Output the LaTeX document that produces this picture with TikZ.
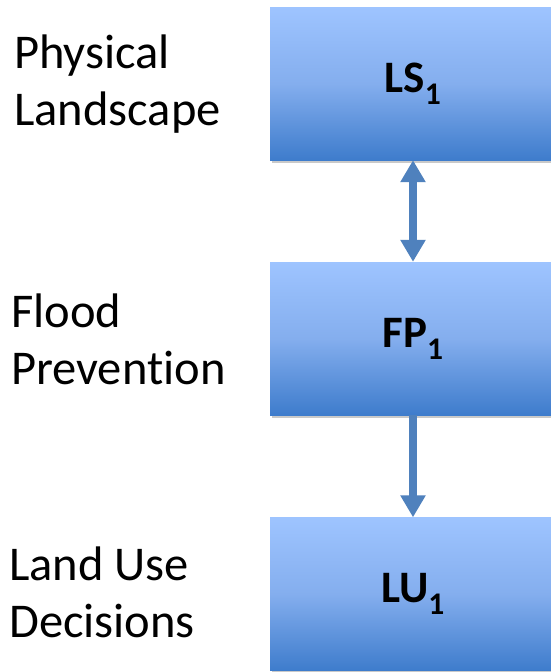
\documentclass[tikz,border=0pt]{standalone}
\usepackage{fontspec}
\setmainfont{Carlito}[Ligatures=NoCommon]
\usetikzlibrary{arrows.meta,shadows}
\definecolor{boxtop}{RGB}{158,196,255}
\definecolor{boxmid}{RGB}{132,174,238}
\definecolor{boxbot}{RGB}{62,124,204}
\definecolor{arrowblue}{RGB}{79,129,189}
\tikzset{
  level/.style={minimum width=286pt,minimum height=153pt,inner sep=0pt,
    top color=boxtop,bottom color=boxbot,middle color=boxmid,
    drop shadow={shadow xshift=2pt,shadow yshift=-3pt,opacity=0.35,fill=black!60},
    font=\fontsize{45}{52}\selectfont\bfseries},
  sidetext/.style={anchor=west,align=left,inner sep=0pt,
    font=\fontsize{48.5}{57}\selectfont},
  link/.style={arrowblue,line width=8pt,
    -{Triangle[width=24pt,length=22pt]}},
}
\begin{document}
\begin{tikzpicture}[x=1pt,y=-1pt]
  \useasboundingbox[fill=white] (0,0) rectangle (551,672);
  % levels
  \node[level] (ls) at (413,83.5){LS\textsubscript{1}};
  \node[level] (fp) at (413,338.5){FP\textsubscript{1}};
  \node[level] (lu) at (413,594){LU\textsubscript{1}};
  % side labels
  \node[sidetext] (lslabel) at (14,84){Physical\\Landscape};
  \node[sidetext] (fplabel) at (11,339){Flood\\Prevention};
  \node[sidetext] (lulabel) at (9,592){Land Use\\Decisions};
  % links
  \draw[link,{Triangle[width=24pt,length=22pt]}-{Triangle[width=24pt,length=22pt]}] (ls) -- (fp);
  \draw[link] (fp) -- (lu);
\end{tikzpicture}
\end{document}
